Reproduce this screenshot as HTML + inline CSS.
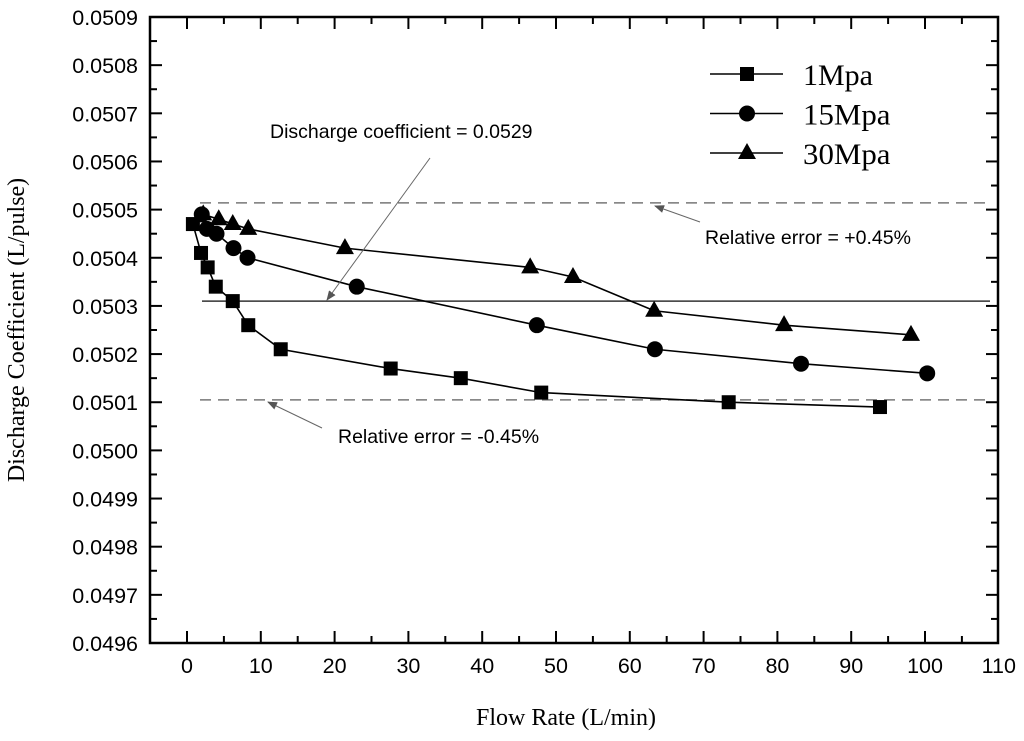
<!DOCTYPE html>
<html><head><meta charset="utf-8"><style>
html,body{margin:0;padding:0;background:#fff;}
svg{display:block;}
</style></head><body>
<svg id="chart" width="1024" height="741" xmlns="http://www.w3.org/2000/svg">
<defs>
<marker id="ah" markerWidth="10" markerHeight="8" refX="9" refY="4" orient="auto" markerUnits="userSpaceOnUse"><path d="M0,0 L10,4 L0,8 z" fill="#555"/></marker>
</defs>
<g id="axes"></g>
<g id="refs"></g>
<g id="series"></g>
<g id="legend"></g>
<g id="notes"></g>
</svg>
<script>
const xTicks=[0,10,20,30,40,50,60,70,80,90,100,110];
const yTicks=[0.0496,0.0497,0.0498,0.0499,0.0500,0.0501,0.0502,0.0503,0.0504,0.0505,0.0506,0.0507,0.0508,0.0509];
const seriesNames=["1Mpa","15Mpa","30Mpa"];
const x1=[0.8,1.9,2.8,3.9,6.2,8.3,12.7,27.6,37.1,48,73.4,93.9];
const y1=[0.05047,0.05041,0.05038,0.05034,0.05031,0.05026,0.05021,0.05017,0.05015,0.05012,0.05010,0.05009];
const x15=[2.0,2.7,4.0,6.3,8.2,23,47.4,63.4,83.2,100.3];
const y15=[0.05049,0.05046,0.05045,0.05042,0.05040,0.05034,0.05026,0.05021,0.05018,0.05016];
const x30=[2.2,4.3,6.2,8.3,21.4,46.5,52.3,63.3,80.9,98.1];
const y30=[0.05049,0.05048,0.05047,0.05046,0.05042,0.05038,0.05036,0.05029,0.05026,0.05024];
const refValues=[0.05031,0.050514,0.050105];

const NS="http://www.w3.org/2000/svg";
const L=150,R=998,T=17,B=643;
const X=v=>187+v*7.38;
const Y=v=>B-(v-0.0496)/0.0013*(B-T);
function el(tag,attrs,parent,text){const e=document.createElementNS(NS,tag);for(const k in attrs)e.setAttribute(k,attrs[k]);if(text!==undefined)e.textContent=text;parent.appendChild(e);return e;}
const axes=document.getElementById('axes');
const frame=el('rect',{x:L,y:T,width:R-L,height:B-T,fill:'none',stroke:'#000','stroke-width':2.5},axes);


const tf='font-family:"Liberation Sans",Arial,sans-serif;font-size:21.5px;fill:#000';
xTicks.forEach((t,i)=>{
  const x=X(t);
  if(t<110){
    el('line',{x1:x,y1:B,x2:x,y2:B-12,stroke:'#000','stroke-width':2},axes);
    el('line',{x1:x,y1:T,x2:x,y2:T+12,stroke:'#000','stroke-width':2},axes);
    const xm=X(t+5);
    el('line',{x1:xm,y1:B,x2:xm,y2:B-7,stroke:'#000','stroke-width':2},axes);
    el('line',{x1:xm,y1:T,x2:xm,y2:T+7,stroke:'#000','stroke-width':2},axes);
  }
  const tx=el('text',{x:x,y:673,'text-anchor':'middle',style:tf},axes,String(t));
  
  
});
yTicks.forEach((t,i)=>{
  const y=Y(t);
  el('line',{x1:L,y1:y,x2:L+12,y2:y,stroke:'#000','stroke-width':2},axes);
  el('line',{x1:R,y1:y,x2:R-12,y2:y,stroke:'#000','stroke-width':2},axes);
  if(i<yTicks.length-1){const ym=Y(t+0.00005);
    el('line',{x1:L,y1:ym,x2:L+7,y2:ym,stroke:'#000','stroke-width':2},axes);
    el('line',{x1:R,y1:ym,x2:R-7,y2:ym,stroke:'#000','stroke-width':2},axes);}
  const ty=el('text',{x:138,y:y+8,'text-anchor':'end',style:tf},axes,t.toFixed(4));
  
  
});
const xt=el('text',{x:566,y:725,'text-anchor':'middle',style:'font-family:"Liberation Serif",serif;font-size:24px'},axes,'Flow Rate (L/min)');


const yt=el('text',{x:0,y:0,'text-anchor':'middle',transform:'translate(24,330) rotate(-90)',style:'font-family:"Liberation Serif",serif;font-size:24px'},axes,'Discharge Coefficient (L/pulse)');



const refs=document.getElementById('refs');
const r0=el('line',{x1:202,y1:Y(refValues[0]),x2:990,y2:Y(refValues[0]),stroke:'#333','stroke-width':1.5},refs);


[1,2].forEach(i=>{
  const r=el('line',{x1:200,y1:Y(refValues[i]),x2:990,y2:Y(refValues[i]),stroke:'#777','stroke-width':1.5,'stroke-dasharray':'11,7'},refs);
  
  
});

function marker(type,x,y,g){
  let m;
  if(type===0) m=el('rect',{x:x-7,y:y-7,width:14,height:14,fill:'#000'},g);
  else if(type===1) m=el('circle',{cx:x,cy:y,r:8,fill:'#000'},g);
  else m=el('path',{d:`M${x},${y-10} L${x+9},${y+6} L${x-9},${y+6} Z`,fill:'#000'},g);
  return m;
}
const sg=document.getElementById('series');
[[x1,y1],[x15,y15],[x30,y30]].forEach((s,k)=>{
  const g=el('g',{},sg);
  
  
  const pts=s[0].map((v,i)=>X(v)+','+Y(s[1][i])).join(' ');
  el('polyline',{points:pts,fill:'none',stroke:'#000','stroke-width':1.6},g);
  s[0].forEach((v,i)=>{
    const m=marker(k,X(v),Y(s[1][i]),g);
    
    
  });
});

const lg=document.getElementById('legend');
seriesNames.forEach((n,k)=>{
  const y=74+k*39.5;
  const g=el('g',{},lg);
  
  
  el('line',{x1:710,y1:y,x2:783,y2:y,stroke:'#000','stroke-width':1.6},g);
  marker(k,747,y,g);
  el('text',{x:803,y:y+11,textLength:n.length*17.5,lengthAdjust:'spacingAndGlyphs',style:'font-family:"Liberation Serif",serif;font-size:30px'},g,n);
});

const nt=document.getElementById('notes');
const nf='font-family:"Liberation Sans",Arial,sans-serif;font-size:19.5px;fill:#000';
const a1=el('text',{x:270,y:138,style:nf},nt,'Discharge coefficient  = 0.0529');


const a2=el('text',{x:705,y:244,style:nf},nt,'Relative error = +0.45%');


const a3=el('text',{x:338,y:443,style:nf},nt,'Relative error = -0.45%');


[[430,158,327,300],[700,222,655,206],[322,428,268,402]].forEach(a=>{
  const ar=el('line',{x1:a[0],y1:a[1],x2:a[2],y2:a[3],stroke:'#666','stroke-width':1,'marker-end':'url(#ah)'},nt);
  
  
});
</script>
</body></html>
